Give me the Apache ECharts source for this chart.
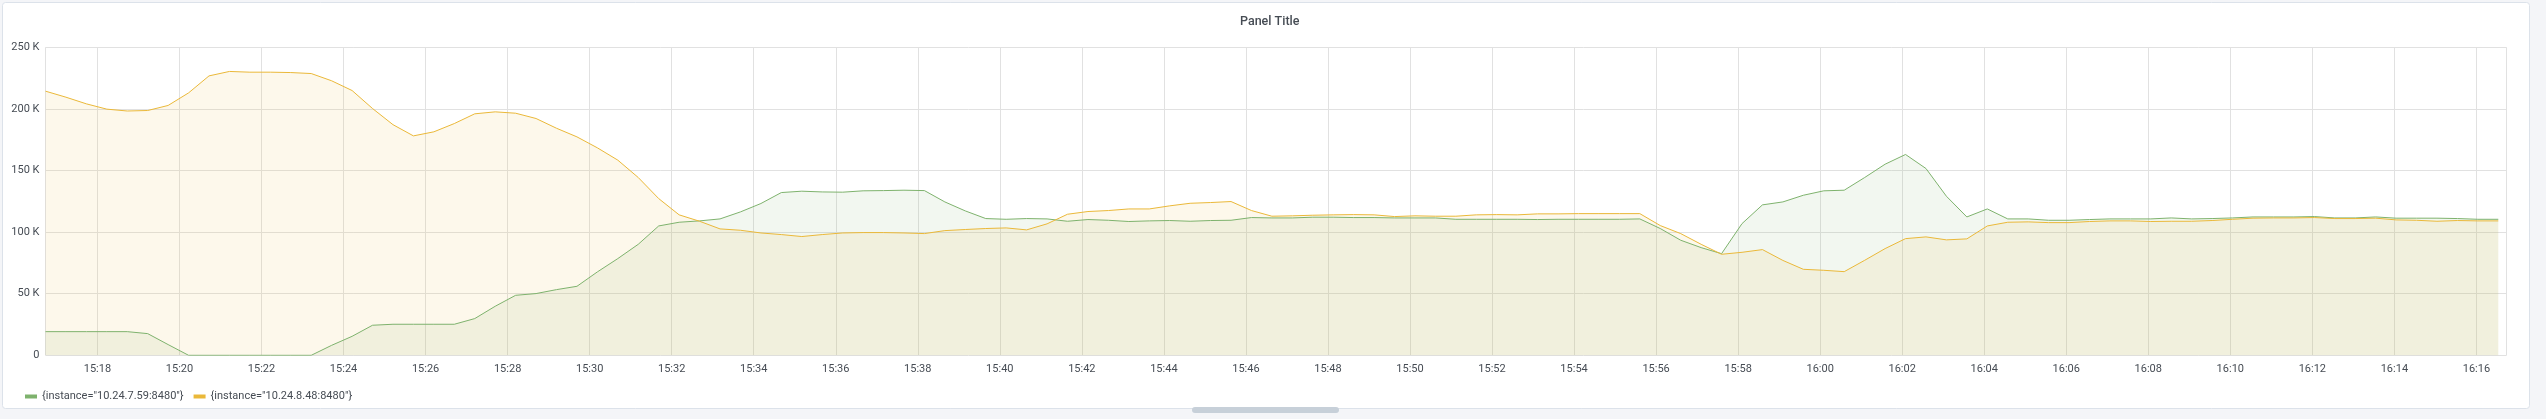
<!DOCTYPE html>
<html><head><meta charset="utf-8">
<script src="https://cdn.jsdelivr.net/npm/echarts@6/dist/echarts.min.js"></script>
<style>html,body{margin:0;padding:0;background:#f4f5f8;}#c{width:2546px;height:419px;}</style>
</head><body><div id="c"></div>
<script>
// ---- data ----
const panelTitle = 'Panel Title';
const seriesNames = ['{instance="10.24.7.59:8480"}', '{instance="10.24.8.48:8480"}'];
const startClock = [15, 16, 44];       // first sample time (HH, mm, ss)
const stepSeconds = 29.9;              // sample spacing
const rangeMinutes = 60;               // dashboard time range
const yMax = 250000;
const yStep = 50000;
// values in thousands (K)
const greenK = [
  19.2,19.2,19.2,19.2,19.2,17.6,8.7,0,0,0,
  0,0,0,0,8.1,15.4,24.4,25.2,25.2,25.2,
  25.2,29.8,39.8,48.7,50.1,53.3,56.0,67.7,78.5,90.1,
  105.0,108.0,109.1,110.7,116.4,123.2,132.1,133.2,132.6,132.4,
  133.5,133.7,134.0,133.7,124.5,117.2,111.0,110.4,111.0,110.7,
  108.8,110.2,109.6,108.6,109.1,109.4,108.8,109.4,109.6,111.8,
  111.5,111.5,112.1,112.1,111.8,111.8,111.5,111.5,111.5,110.4,
  110.4,110.4,110.4,110.2,110.4,110.4,110.4,110.4,110.7,102.9,
  93.4,87.4,82.5,106.9,122.1,124.5,129.9,133.5,134.0,144.3,
  155.1,163.0,151.6,129.1,112.3,118.8,110.7,110.7,109.6,109.6,
  110.2,110.7,110.7,110.7,111.5,110.7,111.0,111.5,112.3,112.3,
  112.3,112.6,111.5,111.5,112.3,111.3,111.3,111.3,111.0,110.4,
  110.4
];
const yellowK = [
  214.4,209.5,204.1,199.8,198.3,198.7,202.8,213.0,226.8,230.4,
  229.8,229.8,229.5,228.7,222.8,214.9,200.3,187.2,178.1,181.4,
  188.1,196.0,197.6,196.5,192.2,184.3,177.3,168.4,158.4,144.3,
  127.2,114.0,108.8,102.6,101.5,99.3,98.0,96.4,98.0,99.3,
  99.6,99.6,99.3,98.8,101.2,102.1,102.9,103.4,101.8,106.7,
  114.5,116.7,117.5,118.8,118.8,121.3,123.4,124.0,124.8,117.5,
  112.9,113.2,113.7,114.0,114.2,114.0,112.6,113.2,112.9,112.9,
  114.0,114.2,114.0,114.8,114.8,115.0,115.0,115.0,115.0,105.3,
  98.8,90.1,82.0,83.6,85.8,77.0,69.8,69.0,67.9,77.1,
  86.6,94.7,96.1,93.7,94.5,105.0,108.0,108.3,107.7,107.7,
  108.6,109.1,109.1,108.6,108.8,108.8,109.4,110.4,111.3,111.5,
  111.5,111.8,111.0,111.0,111.3,109.9,109.6,108.8,109.4,109.1,
  109.1
];

// ---- build ----
const base = new Date(2023, 0, 1, startClock[0], startClock[1], startClock[2]).getTime();
const toPairs = arr => arr.map((v, i) => [base + i * stepSeconds * 1000, v * 1000]);
const pad = n => (n < 10 ? '0' : '') + n;

const chart = echarts.init(document.getElementById('c'), null, { renderer: 'canvas' });
const FONT = 'Roboto, "Open Sans", sans-serif';
chart.setOption({
  backgroundColor: '#f4f5f8',
  animation: false,
  textStyle: { fontFamily: FONT },
  graphic: [
    { type: 'rect', z: -10, silent: true,
      shape: { x: 2.5, y: 2.5, width: 2527, height: 406, r: 3 },
      style: { fill: '#ffffff', stroke: '#dce2ea', lineWidth: 1 } },
    { type: 'rect', z: 100, silent: true,
      shape: { x: 1192, y: 407, width: 147, height: 6, r: 3 },
      style: { fill: '#c7d0d9' } }
  ],
  title: {
    text: panelTitle, left: 1235, top: 10,
    textStyle: { fontFamily: FONT, fontSize: 12.5, fontWeight: 500, color: '#464c54' }
  },
  legend: {
    left: 20, top: 386, icon: 'rect', itemWidth: 12, itemHeight: 4, itemGap: 10,
    textStyle: { fontFamily: FONT, fontSize: 11, color: '#464c54' }
  },
  grid: { left: 45.5, right: 39.5, top: 47.3, bottom: 63.7, containLabel: false },
  xAxis: {
    type: 'time',
    min: base, max: base + rangeMinutes * 60000,
    minInterval: 130000, maxInterval: 130000,
    axisLine: { show: false }, axisTick: { show: false },
    splitLine: { show: true, lineStyle: { color: '#e1e1e1', width: 1 } },
    axisLabel: {
      color: '#464c54', fontSize: 11, fontFamily: FONT, margin: 8,
      formatter: v => { const d = new Date(v); return pad(d.getHours()) + ':' + pad(d.getMinutes()); }
    }
  },
  yAxis: {
    type: 'value', min: 0, max: yMax, interval: yStep,
    axisLine: { show: false }, axisTick: { show: false },
    splitLine: { show: true, lineStyle: { color: '#e1e1e1', width: 1 } },
    axisLabel: {
      color: '#464c54', fontSize: 11, fontFamily: FONT, margin: 6,
      formatter: v => v === 0 ? '0' : (v / 1000) + ' K'
    }
  },
  series: [
    { name: seriesNames[0], type: 'line', data: toPairs(greenK), showSymbol: false, symbol: 'none',
      color: '#7EB26D', lineStyle: { width: 1, color: '#7EB26D' },
      areaStyle: { color: 'rgba(126,178,109,0.1)', opacity: 1 } },
    { name: seriesNames[1], type: 'line', data: toPairs(yellowK), showSymbol: false, symbol: 'none',
      color: '#EAB839', lineStyle: { width: 1, color: '#EAB839' },
      areaStyle: { color: 'rgba(234,184,57,0.1)', opacity: 1 } }
  ]
});
</script>
</body></html>
